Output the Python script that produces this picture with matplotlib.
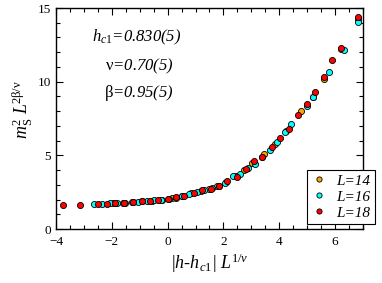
import matplotlib
matplotlib.use('Agg')
import matplotlib.pyplot as plt
from matplotlib.ticker import MultipleLocator

plt.rcParams['font.family'] = ['Liberation Serif', 'DejaVu Serif']
plt.rcParams['mathtext.fontset'] = 'custom'
plt.rcParams['mathtext.rm'] = 'Liberation Serif'
plt.rcParams['mathtext.it'] = 'Liberation Serif:italic'
plt.rcParams['mathtext.bf'] = 'Liberation Serif:bold'

# ---- data: x = |h-hc1| L^(1/nu), y = m_S^2 L^(2beta/nu) ----
x14 = [-1.95, -1.60, -1.25, -0.90, -0.55, -0.20, 0.15, 0.50, 0.85, 1.20, 1.50, 1.76,
       2.10, 2.45, 2.75, 3.03, 3.45, 3.85, 4.25, 4.77, 5.20, 5.61, 6.20, 6.83]
y14 = [1.76, 1.78, 1.82, 1.87, 1.93, 1.99, 2.08, 2.22, 2.42, 2.60, 2.74, 2.95,
       3.22, 3.60, 4.00, 4.50, 5.12, 5.78, 6.62, 8.01, 8.94, 10.18, 12.25, 14.25]

x16 = [-2.63, -2.36, -2.08, -1.81, -1.54, -1.27, -1.05, -0.75, -0.48, -0.22, 0.05,
       0.30, 0.52, 0.78, 1.05, 1.32, 1.58, 1.83, 2.05, 2.33, 2.59, 2.87, 3.15, 3.40,
       3.67, 3.93, 4.20, 4.44, 5.00, 5.22, 5.78, 6.31, 6.83]
y16 = [1.72, 1.73, 1.75, 1.77, 1.79, 1.82, 1.86, 1.90, 1.94, 1.99, 2.05,
       2.12, 2.24, 2.36, 2.52, 2.64, 2.77, 2.93, 3.12, 3.58, 3.72, 4.12, 4.43, 4.86,
       5.36, 5.90, 6.60, 7.13, 8.35, 8.98, 10.68, 12.15, 14.07]

x18 = [-3.74, -3.14, -2.51, -2.19, -1.88, -1.57, -1.25, -0.93, -0.63, -0.33, 0.00,
       0.30, 0.60, 0.93, 1.24, 1.54, 1.85, 2.14, 2.47, 2.81, 3.09, 3.40, 3.73, 4.03,
       4.35, 4.68, 4.98, 5.28, 5.60, 5.90, 6.21, 6.83]
y18 = [1.63, 1.65, 1.70, 1.72, 1.76, 1.79, 1.80, 1.88, 1.92, 1.96, 2.02,
       2.14, 2.24, 2.45, 2.62, 2.74, 2.92, 3.28, 3.51, 4.10, 4.62, 4.91, 5.59, 6.15,
       6.77, 7.76, 8.48, 9.32, 10.34, 11.50, 12.31, 14.37]

fig = plt.figure(figsize=(3.82, 2.83), dpi=100)
ax = fig.add_axes([0.1466, 0.1908, 0.8034, 0.7809])

mk = dict(marker='o', linestyle='none', markersize=4.4,
          markeredgecolor='black', markeredgewidth=0.6)
ax.plot(x14, y14, color='#FFA500', label='L=14', **mk)
ax.plot(x16, y16, color='#00FFFF', label='L=16', **mk)
ax.plot(x18, y18, color='#FF0000', label='L=18', **mk)

ax.set_xlim(-4, 7)
ax.set_ylim(0, 15)
ax.xaxis.set_major_locator(MultipleLocator(2))
ax.xaxis.set_minor_locator(MultipleLocator(0.5))
ax.yaxis.set_major_locator(MultipleLocator(5))
ax.yaxis.set_minor_locator(MultipleLocator(1))
ax.tick_params(which='both', direction='in', top=True, right=True, width=0.8,
               labelsize=9.5)
ax.tick_params(axis='x', pad=5)
ax.tick_params(axis='y', pad=3.5)
ax.tick_params(which='major', length=5)
ax.tick_params(which='minor', length=3)
for s in ax.spines.values():
    s.set_linewidth(1.0)

ax.set_xlabel(r'|h-h$_{\mathit{c1}}$| L$^{\mathit{1/\nu}}$', fontsize=13, fontstyle='italic')
ax.xaxis.set_label_coords(0.5, -0.10)
ax.set_ylabel(r'm$_{\mathrm{S}}^{\mathrm{2}}$ L$^{\mathrm{2\beta/\nu}}$', fontsize=13,
              fontstyle='italic')
ax.yaxis.set_label_coords(-0.07, 0.54)

ax.text(0.264, 0.869, r'h$_{\mathit{c1}}$=0.830(5)', transform=ax.transAxes,
        ha='center', va='center', fontsize=12, fontstyle='italic')
ax.text(0.270, 0.738, r'$\mathrm{\nu}$=0.70(5)', transform=ax.transAxes,
        ha='center', va='center', fontsize=12, fontstyle='italic')
ax.text(0.270, 0.615, r'$\mathrm{\beta}$=0.95(5)', transform=ax.transAxes,
        ha='center', va='center', fontsize=12, fontstyle='italic')

leg = ax.legend(loc='upper left', bbox_to_anchor=(0.804, 0.401),
                bbox_transform=fig.transFigure, borderaxespad=0,
                prop={'style': 'italic', 'size': 11},
                markerscale=0.85, handlelength=1.0, handletextpad=0.6,
                labelspacing=0.15, borderpad=0.3, fancybox=False, framealpha=1)
leg.get_frame().set_edgecolor('black')
leg.get_frame().set_linewidth(0.8)

fig.savefig('out.png', dpi=100)
